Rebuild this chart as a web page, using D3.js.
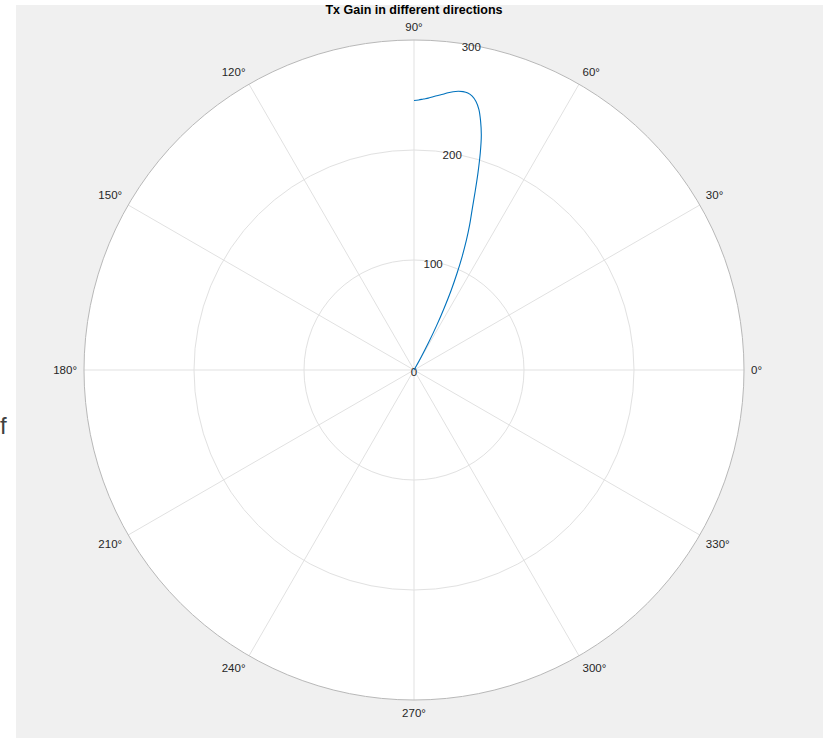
<!DOCTYPE html>
<html>
<head>
<meta charset="utf-8">
<script src="https://cdn.jsdelivr.net/npm/d3@7"></script>
<style>
  body { margin: 0; background: #fff; }
  text { font-family: "Liberation Sans", Arial, sans-serif; }
</style>
</head>
<body>
<svg id="chart" width="823" height="738"></svg>
<script>
// gain pattern (angle in degrees, gain)
const angles = [60, 61, 62, 63, 64, 65, 66, 67, 68, 69, 70, 71, 72, 73, 74, 75,
  76, 77, 78, 79, 80, 81, 82, 83, 84, 85, 86, 87, 88, 89, 90];
const gains = [0, 12, 28, 45, 62, 80, 96, 112, 127, 141, 154, 170, 188, 206, 222, 234,
  244, 250.5, 254.5, 256.5, 257, 256.5, 255.5, 254, 252, 250.5, 249, 247.5, 246.5, 245.5, 245];
const rTicks = [0, 100, 200, 300];
const thetaTicks = [0, 30, 60, 90, 120, 150, 180, 210, 240, 270, 300, 330];

const title = "Tx Gain in different directions";

const sizes = { cx: 414, cy: 370, outer: 330, labelGap: 7 };

const svg = d3.select("#chart");

// figure background
svg.append("rect").attr("x", 16).attr("y", 5).attr("width", 807).attr("height", 733)
  .attr("fill", "#f0f0f0");
svg.append("text").attr("x", 0).attr("y", 434).attr("font-size", 24)
  .attr("fill", "#404040").text("f");

const r = d3.scaleLinear().domain([0, 300]).range([0, sizes.outer]);
const toRad = (d) => (d * Math.PI) / 180;

const g = svg.append("g").attr("transform", `translate(${sizes.cx},${sizes.cy})`);

g.append("circle").attr("r", sizes.outer).attr("fill", "#fff");

// rings
g.selectAll(".ring")
  .data(rTicks.filter((d) => d > 0 && d < 300))
  .enter()
  .append("circle")
  .attr("r", (d) => r(d))
  .attr("fill", "none")
  .attr("stroke", "#e1e1e1")
  .attr("stroke-width", 1);

// spokes
g.selectAll(".spoke")
  .data(thetaTicks)
  .enter()
  .append("line")
  .attr("x1", 0)
  .attr("y1", 0)
  .attr("x2", (d) => r(300) * Math.cos(toRad(d)))
  .attr("y2", (d) => -r(300) * Math.sin(toRad(d)))
  .attr("stroke", "#e1e1e1")
  .attr("stroke-width", 1);

g.append("circle").attr("r", sizes.outer).attr("fill", "none")
  .attr("stroke", "#b8b8b8").attr("stroke-width", 1);

// angle labels
g.selectAll(".tlabel")
  .data(thetaTicks)
  .enter()
  .append("text")
  .attr("font-size", 11.5)
  .attr("fill", "#262626")
  .attr("x", (d) => (sizes.outer + sizes.labelGap) * Math.cos(toRad(d)))
  .attr("y", (d) => -(sizes.outer + sizes.labelGap) * Math.sin(toRad(d)))
  .attr("text-anchor", (d) => {
    const c = Math.cos(toRad(d));
    return c > 0.01 ? "start" : c < -0.01 ? "end" : "middle";
  })
  .attr("dy", (d) => {
    const s = Math.sin(toRad(d));
    return s > 0.01 ? "-0.2em" : s < -0.01 ? "0.85em" : "0.35em";
  })
  .text((d) => d + "°");

// radial tick labels at 80 degrees
g.selectAll(".rlabel")
  .data(rTicks)
  .enter()
  .append("text")
  .attr("font-size", 11.5)
  .attr("fill", "#262626")
  .attr("text-anchor", "middle")
  .attr("dy", "0.35em")
  .attr("x", (d) => r(d) * Math.cos(toRad(80)))
  .attr("y", (d) => -r(d) * Math.sin(toRad(80)) + 2)
  .text((d) => d);

// gain curve
const line = d3
  .lineRadial()
  .angle((d, i) => Math.PI / 2 - toRad(angles[i]))
  .radius((d) => r(d))
  .curve(d3.curveCatmullRom);

g.append("path")
  .datum(gains)
  .attr("d", line)
  .attr("fill", "none")
  .attr("stroke", "#0072bd")
  .attr("stroke-width", 1.1);

svg.append("text")
  .attr("x", sizes.cx)
  .attr("y", 14)
  .attr("text-anchor", "middle")
  .attr("font-size", 12.5)
  .attr("font-weight", "bold")
  .attr("fill", "#000")
  .text(title);
</script>
</body>
</html>
